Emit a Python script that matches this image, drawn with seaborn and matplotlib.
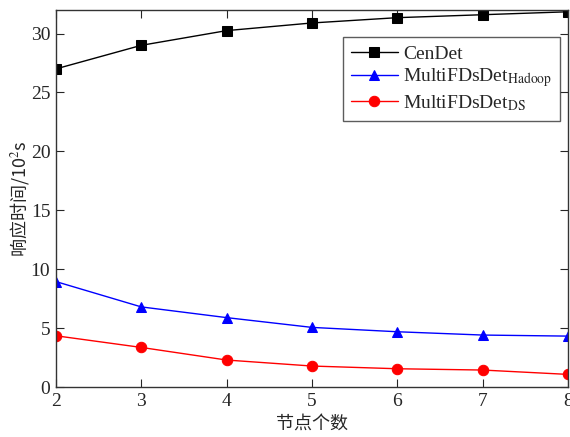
import pandas as pd
import seaborn as sns
import matplotlib
matplotlib.use("Agg")
import matplotlib.pyplot as plt

# data
nodes = [2, 3, 4, 5, 6, 7, 8]
cendet = [27.0, 29.0, 30.25, 30.9, 31.35, 31.6, 31.85]
hadoop = [8.95, 6.8, 5.89, 5.06, 4.69, 4.41, 4.32]
ds = [4.35, 3.36, 2.29, 1.78, 1.55, 1.44, 1.07]

labels = ["CenDet", r"MultiFDsDet$_{\mathrm{Hadoop}}$", r"MultiFDsDet$_{\mathrm{DS}}$"]
colors = ["black", "#0000ff", "#ff0000"]
markers = ["s", "^", "o"]

df = pd.DataFrame({
    "nodes": nodes * 3,
    "time": cendet + hadoop + ds,
    "series": [labels[0]] * 7 + [labels[1]] * 7 + [labels[2]] * 7,
})

sns.set_style("ticks")
plt.rcParams["font.family"] = ["Liberation Serif", "Noto Sans CJK SC"]
plt.rcParams["mathtext.fontset"] = "stix"

fig = plt.figure(figsize=(5.7, 4.37), dpi=100)
ax = fig.add_axes([0.098, 0.1144, 0.8985, 0.8627])

sns.lineplot(data=df, x="nodes", y="time", hue="series", style="series",
             palette=dict(zip(labels, colors)), markers=dict(zip(labels, markers)),
             dashes=False, markersize=7.5, markeredgecolor=None, linewidth=1,
             ax=ax)

ax.set_xlim(2, 8)
ax.set_ylim(0, 32)
ax.set_xticks(nodes)
ax.set_yticks([0, 5, 10, 15, 20, 25, 30])
ax.tick_params(direction="in", length=6, width=0.8, top=True, right=True, labelsize=14, pad=4)
for s in ax.spines.values():
    s.set_linewidth(1)
    s.set_color("#333333")

ax.set_xlabel("节点个数", fontsize=13, family=["Noto Sans CJK SC"], labelpad=4)
ax.set_ylabel(r"响应时间/10$^{2}$s", fontsize=13, family=["Noto Sans CJK SC", "Liberation Serif"], labelpad=0)

leg = ax.legend(loc="upper right", bbox_to_anchor=(0.985, 0.928), fontsize=14,
                frameon=True, fancybox=False, edgecolor="#333333", borderaxespad=0,
                handlelength=2.4, handletextpad=0.3, borderpad=0.4, labelspacing=0.2)
leg.get_frame().set_linewidth(1)

fig.savefig("out.png", dpi=100)
